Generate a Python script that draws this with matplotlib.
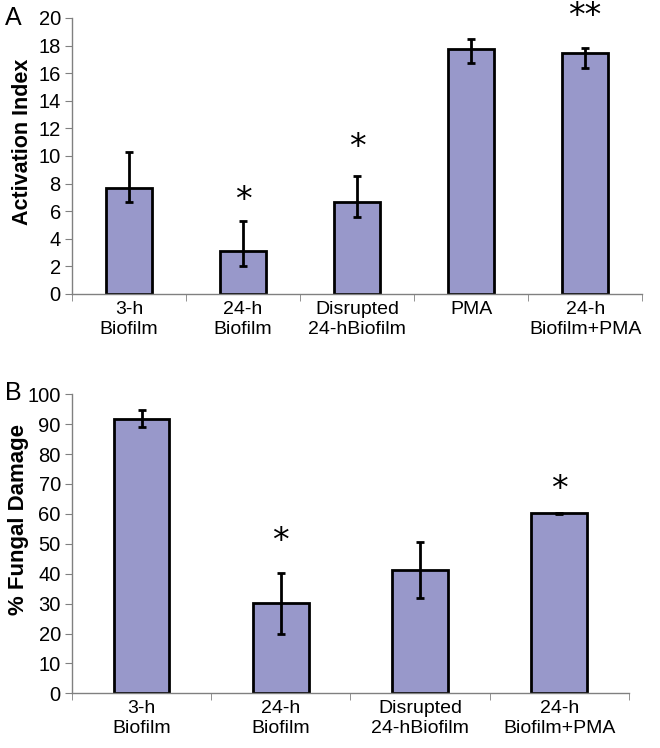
import matplotlib
matplotlib.use("Agg")
import matplotlib.pyplot as plt
import numpy as np

plt.rcParams['font.family'] = ['Liberation Sans', 'DejaVu Sans']

# Panel A data
cats_a = ["3-h\nBiofilm", "24-h\nBiofilm", "Disrupted\n24-hBiofilm", "PMA", "24-h\nBiofilm+PMA"]
vals_a = [7.66, 3.14, 6.64, 17.75, 17.44]
err_lo_a = [1.02, 1.09, 1.04, 0.99, 1.04]
err_hi_a = [2.64, 2.15, 1.93, 0.73, 0.41]
stars_a = ["", "*", "*", "", "**"]
star_y_a = [0, 6.8, 10.6, 0, 20.1]

# Panel B data
cats_b = ["3-h\nBiofilm", "24-h\nBiofilm", "Disrupted\n24-hBiofilm", "24-h\nBiofilm+PMA"]
vals_b = [91.7, 30.1, 41.2, 60.2]
err_lo_b = [2.7, 10.4, 9.4, 0.2]
err_hi_b = [3.0, 10.2, 9.5, 0.2]
stars_b = ["", "*", "", "*"]
star_y_b = [0, 50.7, 0, 68.0]

bar_color = '#9898CA'

fig = plt.figure(figsize=(6.6, 7.48), dpi=100)

def style(ax, n, ymax, ystep, ylabel, lsize, lx, ly):
    ax.set_xlim(-0.5, n - 0.5)
    ax.set_ylim(0, ymax)
    ax.set_yticks(np.arange(0, ymax + ystep / 2, ystep))
    for s in ['top', 'right']:
        ax.spines[s].set_visible(False)
    ax.spines['left'].set_color('#808080')
    ax.spines['bottom'].set_color('#808080')
    ax.spines['left'].set_linewidth(1.0)
    ax.spines['bottom'].set_linewidth(1.0)
    ax.tick_params(axis='y', direction='out', length=5, color='#808080', labelsize=14.5, pad=3)
    ax.set_xticks(np.arange(n))
    ax.set_xticks(np.arange(-0.5, n, 1.0), minor=True)
    ax.tick_params(axis='x', which='major', length=0, labelsize=14, pad=5)
    ax.tick_params(axis='x', which='minor', length=5, color='#808080', direction='out')
    ax.set_ylabel(ylabel, fontsize=lsize, fontweight='bold')
    ax.yaxis.set_label_coords(lx, ly)

# Panel A
axA = fig.add_axes([0.109, 0.607, 0.864, 0.369])
x = np.arange(len(cats_a))
axA.bar(x, vals_a, width=0.40, color=bar_color, edgecolor='black', linewidth=2, zorder=2)
axA.errorbar(x, vals_a, yerr=[err_lo_a, err_hi_a], fmt='none', ecolor='black',
             elinewidth=2, capsize=3, capthick=2, zorder=3)
for xi, s, sy in zip(x, stars_a, star_y_a):
    if s:
        axA.text(xi, sy, s, ha='center', va='center', fontsize=24, clip_on=False,
                 family='DejaVu Sans')
style(axA, len(cats_a), 20, 2, 'Activation Index', 15.5, -0.068, 0.55)
axA.set_xticklabels(cats_a)
fig.text(0.008, 0.976, 'A', fontsize=18, va='center', ha='left')

# Panel B
axB = fig.add_axes([0.109, 0.073, 0.844, 0.400])
xb = np.arange(len(cats_b))
axB.bar(xb, vals_b, width=0.40, color=bar_color, edgecolor='black', linewidth=2, zorder=2)
axB.errorbar(xb, vals_b, yerr=[err_lo_b, err_hi_b], fmt='none', ecolor='black',
             elinewidth=2, capsize=3, capthick=2, zorder=3)
for xi, s, sy in zip(xb, stars_b, star_y_b):
    if s:
        axB.text(xi, sy, s, ha='center', va='center', fontsize=24, clip_on=False,
                 family='DejaVu Sans')
style(axB, len(cats_b), 100, 10, '% Fungal Damage', 16, -0.077, 0.58)
axB.set_xticklabels(cats_b)
fig.text(0.008, 0.474, 'B', fontsize=18, va='center', ha='left')

fig.savefig('out.png', dpi=100)
